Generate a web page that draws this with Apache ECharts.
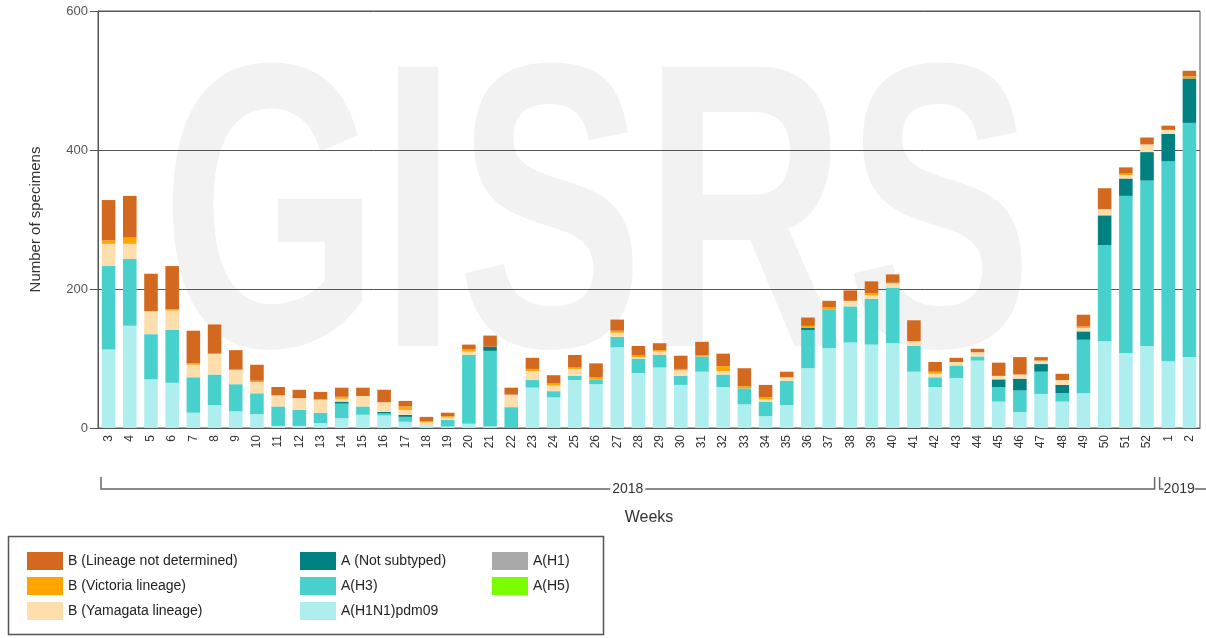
<!DOCTYPE html>
<html>
<head>
<meta charset="utf-8">
<script src="https://cdn.jsdelivr.net/npm/echarts@6/dist/echarts.min.js"></script>
<style>
  html, body { margin: 0; padding: 0; background: #fff; }
  #chart { width: 1206px; height: 638px; }
</style>
</head>
<body>
<div id="chart"></div>
<script>
// weeks 3..52 of 2018, then 1..2 of 2019
var weeks = ['3','4','5','6','7','8','9','10','11','12','13','14','15','16','17','18','19','20','21','22','23','24','25','26','27','28','29','30','31','32','33','34','35','36','37','38','39','40','41','42','43','44','45','46','47','48','49','50','51','52','1','2'];
var yearLabels = ['2018', '2019'];

var h1n1 = [113,147,70,65,22,33,24,20,3,3,7,14,19,18,9,4,2,6,2,0,58,44,69,63,116,79,87,62,81,59,34,17,33,86,115,123,120,122,81,59,72,97,38,23,49,38,50,125,108,118,96,102];
var h3 = [120,96,65,76,51,44,39,30,28,23,15,21,12,3,7,0,10,99,109,30,11,9,6,7,15,21,18,13,22,18,23,21,35,55,55,52,66,80,37,14,18,6,21,31,32,12,77,138,226,238,288,337];
var notSubtyped = [0,0,0,0,0,0,0,0,0,0,0,3,0,2,3,0,0,0,6,0,0,0,0,0,0,0,0,0,0,0,0,0,0,3,0,0,0,0,0,0,0,0,11,17,11,12,12,43,25,41,39,64];
var h1 = [0,0,0,0,0,0,0,0,0,0,0,0,0,0,0,0,0,0,0,0,0,0,0,0,0,0,0,0,0,0,0,0,0,0,0,0,0,0,0,0,0,0,0,0,0,0,0,0,0,0,0,0];
var h5 = [0,0,0,0,0,0,0,0,0,0,0,0,0,0,0,0,0,0,0,0,0,0,0,0,0,0,0,0,0,0,0,0,0,0,0,0,0,0,0,0,0,0,0,0,0,0,0,0,0,0,0,0];
var yamagata = [32,22,33,28,18,30,21,16,16,17,19,4,15,14,7,4,3,5,0,18,13,8,10,0,6,2,5,8,0,5,0,3,5,0,0,8,5,6,7,5,5,6,5,6,5,7,5,9,5,11,6,0];
var victoria = [5,9,0,2,2,0,0,2,0,0,0,3,0,0,5,2,2,3,0,0,3,3,2,3,3,3,2,2,2,7,3,3,0,3,4,0,3,1,0,3,0,0,0,0,0,0,2,0,2,0,0,3];
var lineageNd = [58,60,54,62,47,42,28,23,12,12,11,13,12,18,8,6,5,7,16,10,16,12,18,20,16,13,10,19,19,18,26,18,8,12,9,15,17,12,30,14,6,5,19,25,5,9,17,30,9,10,6,8];

var chart = echarts.init(document.getElementById('chart'));

function bar(name, data, color) {
    return { name: name, type: 'bar', stack: 'total', data: data, barWidth: '64%', itemStyle: { color: color } };
}

var textColor = '#333';
var legendCommon = {
    orient: 'vertical', top: 547, itemWidth: 36, itemHeight: 18, itemGap: 7,
    icon: 'rect', selectedMode: false,
    textStyle: { fontFamily: 'Liberation Sans', fontSize: 14, color: '#222' }
};

var option = {
    animation: false,
    textStyle: { fontFamily: 'Liberation Sans' },
    grid: { left: 98, right: 6, top: 11, bottom: 210, show: true, borderColor: '#555', borderWidth: 1 },
    legend: [
        Object.assign({ left: 22, data: ['B (Lineage not determined)', 'B (Victoria lineage)', 'B (Yamagata lineage)'] }, legendCommon),
        Object.assign({ left: 295, data: ['A (Not subtyped)', 'A(H3)', 'A(H1N1)pdm09'] }, legendCommon),
        Object.assign({ left: 487, data: ['A(H1)', 'A(H5)'] }, legendCommon)
    ],
    xAxis: {
        type: 'category', data: weeks,
        name: 'Weeks', nameLocation: 'middle', nameGap: 82,
        nameTextStyle: { fontSize: 16, color: textColor },
        axisLine: { lineStyle: { color: '#555' } },
        axisTick: { alignWithLabel: true, length: 5, lineStyle: { color: '#555' } },
        axisLabel: { rotate: 90, fontSize: 12, color: textColor, margin: 7, interval: 0 }
    },
    yAxis: {
        type: 'value', min: 0, max: 600, interval: 200,
        name: 'Number of specimens', nameLocation: 'middle', nameGap: 55,
        nameTextStyle: { fontSize: 15, color: textColor },
        axisLine: { show: true, lineStyle: { color: '#555' } },
        axisTick: { show: true, length: 8, lineStyle: { color: '#555' } },
        axisLabel: { fontSize: 13, color: '#555', margin: 10 },
        splitLine: { lineStyle: { color: '#555', width: 1 } }
    },
    series: [
        bar('A(H1N1)pdm09', h1n1, '#afeeee'),
        bar('A(H3)', h3, '#48d1cc'),
        bar('A (Not subtyped)', notSubtyped, '#008080'),
        bar('A(H1)', h1, '#a9a9a9'),
        bar('A(H5)', h5, '#7cfc00'),
        bar('B (Yamagata lineage)', yamagata, '#ffdead'),
        bar('B (Victoria lineage)', victoria, '#ffa500'),
        bar('B (Lineage not determined)', lineageNd, '#d2691e')
    ]
};
chart.setOption(option);

// year brackets under the week labels, placed from the category scale
var c0 = chart.convertToPixel({ xAxisIndex: 0 }, 0);
var c1 = chart.convertToPixel({ xAxisIndex: 0 }, 1);
var band = c1 - c0;
var split = weeks.indexOf('1');
var x2018a = c0 - band / 2 + 3;
var x2018b = chart.convertToPixel({ xAxisIndex: 0 }, split - 1) + band / 2 - 3;
var x2019a = chart.convertToPixel({ xAxisIndex: 0 }, split) - band / 2 + 2;
var x2019b = chart.convertToPixel({ xAxisIndex: 0 }, weeks.length - 1) + band / 2 + 30;
var by = 489;
var lineStyle = { stroke: '#666', lineWidth: 1.5 };

chart.setOption({
    graphic: [
        {
            type: 'text', z: -10, silent: true, x: 597, y: 234, scaleY: 1.45,
            style: { text: 'GISRS', font: 'bold 280px "Liberation Sans"', fill: '#f2f2f2', align: 'center', verticalAlign: 'middle' }
        },
        { type: 'polyline', shape: { points: [[x2018a, by - 12], [x2018a, by], [x2018b, by], [x2018b, by - 12]] }, style: lineStyle },
        {
            type: 'text', x: (x2018a + x2018b) / 2, y: by,
            style: { text: yearLabels[0], font: '14px "Liberation Sans"', fill: textColor, align: 'center', verticalAlign: 'middle', backgroundColor: '#fff', padding: [0, 2] }
        },
        { type: 'polyline', shape: { points: [[x2019a, by - 12], [x2019a, by], [x2019b, by]] }, style: lineStyle },
        {
            type: 'text', x: x2019a + 4, y: by,
            style: { text: yearLabels[1], font: '14px "Liberation Sans"', fill: textColor, align: 'left', verticalAlign: 'middle', backgroundColor: '#fff' }
        },
        {
            type: 'rect', shape: { x: 8.5, y: 536.5, width: 595, height: 98 },
            style: { fill: 'none', stroke: '#555', lineWidth: 1.5 }
        }
    ]
});
</script>
</body>
</html>
